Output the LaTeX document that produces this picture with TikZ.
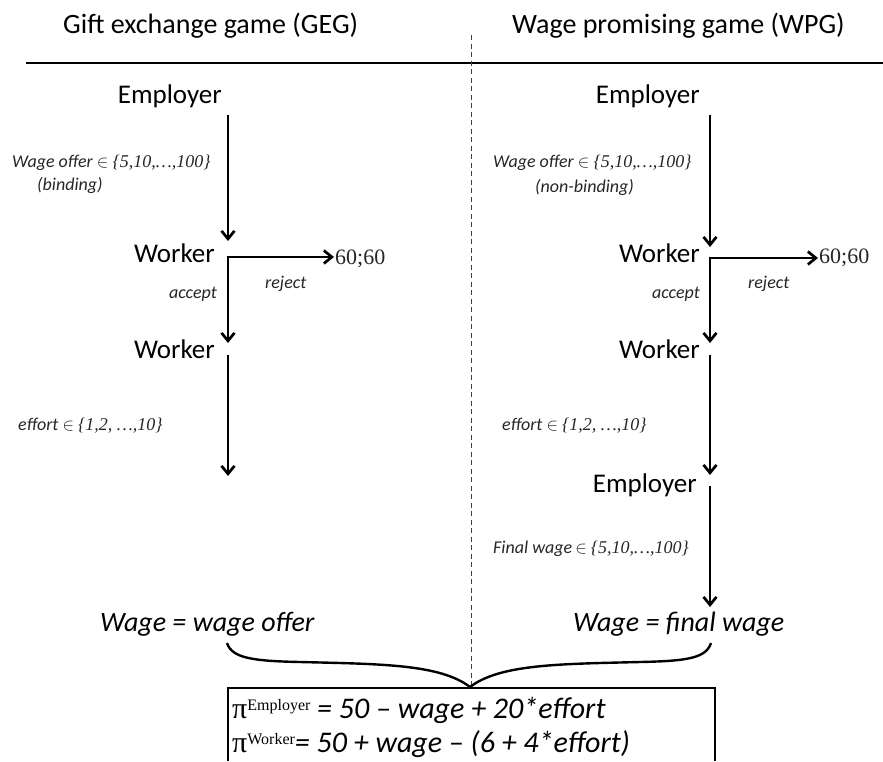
\documentclass[tikz,border=0pt]{standalone}
\usepackage{fontspec}
\setmainfont{Carlito}
\newfontfamily\tms{Liberation Serif}
\usetikzlibrary{arrows.meta}
\newcommand\setin[1]{$\in$ {\tms #1}}
\newcommand\sups[1]{\raisebox{8pt}{\fontsize{16}{16}\selectfont\tms\upshape #1}}
\newcommand\pisym{{\fontsize{30}{30}\selectfont\tms\upshape π}}
\begin{document}
\begin{tikzpicture}[x=1pt,y=-1pt,
  arr/.style={line width=2.7pt,-{Straight Barb[length=8pt,width=13pt]}},
  ttl/.style={font=\fontsize{28}{32}\selectfont, anchor=base west, inner sep=0pt},
  actor/.style={font=\fontsize{27}{30}\selectfont, anchor=base east, inner sep=0pt},
  lbl/.style={font=\fontsize{18}{21}\selectfont\itshape, anchor=base west, inner sep=0pt, text=black!85},
  lble/.style={lbl, anchor=base east},
  pay/.style={font=\fontsize{22}{24}\selectfont\tms, anchor=base west, inner sep=0pt, text=black!85},
  big/.style={font=\fontsize{28}{32}\selectfont\itshape, anchor=base west, inner sep=0pt},
  eq/.style={font=\fontsize{30}{34}\selectfont\itshape, anchor=base west, inner sep=0pt},
  brace/.style={line width=2.4pt},
  divider/.style={dash pattern=on 5pt off 3.5pt, line width=0.9pt, black!75}
]
\useasboundingbox (0,0) rectangle (883,761);

% header
\node[ttl] (t1) at (63,33) {Gift exchange game (GEG)};
\node[ttl] (t2) at (512,33) {Wage promising game (WPG)};
\draw[line width=1.4pt] (26,63) -- (883,63);
\coordinate (d1) at (471,35);
\coordinate (d2) at (471,688);
\draw[divider] (d1) -- (d2);

% left game
\node[actor] (e1) at (222,103) {Employer};
\node[actor] (w1) at (215,262) {Worker};
\node[actor] (w2) at (215,358) {Worker};
\node[lbl] (l1) at (12,167) {Wage offer \setin{\{5,10,…,100\}}};
\node[lbl] (l2) at (37,190) {(binding)};
\node[lble] (l3) at (217,298) {accept};
\node[lbl] (l4) at (265,288) {reject};
\node[pay] (p1) at (335,264) {60;60};
\node[lbl] (l5) at (18,430) {effort \setin{\{1,2, …,10\}}};
\node[big] (wl) at (100,631) {Wage = wage offer};

\coordinate (a1s) at (228,115);
\coordinate (a1e) at (228,241);
\coordinate (b1) at (228,257);
\coordinate (a2e) at (228,343);
\coordinate (a3s) at (228,355);
\coordinate (a3e) at (228,476);
\draw[arr] (a1s) -- (a1e);
\draw[arr,shorten >=1pt] ([xshift=-1.35pt]b1) -- (b1 -| p1.west);
\draw[arr] ([yshift=1.35pt]b1) -- (a2e);
\draw[arr] (a3s) -- (a3e);

% right game
\node[actor] (e2) at (700,103) {Employer};
\node[actor] (w3) at (700,262) {Worker};
\node[actor] (w4) at (700,358) {Worker};
\node[actor] (e3) at (697,492) {Employer};
\node[lbl] (r1) at (493,167) {Wage offer \setin{\{5,10,…,100\}}};
\node[lbl] (r2) at (535,192) {(non-binding)};
\node[lble] (r3) at (700,298) {accept};
\node[lbl] (r4) at (748,288) {reject};
\node[pay] (p2) at (819,263) {60;60};
\node[lbl] (r5) at (502,430) {effort \setin{\{1,2, …,10\}}};
\node[lbl] (r6) at (493,553) {Final wage\,\setin{\{5,10,…,100\}}};
\node[big] (wr) at (573,631) {Wage = final wage};

\coordinate (c1s) at (710,115);
\coordinate (c1e) at (710,247);
\coordinate (b2) at (710,258);
\coordinate (c2e) at (710,343);
\coordinate (c3s) at (710,355);
\coordinate (c3e) at (710,475);
\coordinate (c4s) at (710,486);
\coordinate (c4e) at (710,607);
\draw[arr] (c1s) -- (c1e);
\draw[arr,shorten >=1pt] ([xshift=-1.35pt]b2) -- (b2 -| p2.west);
\draw[arr] ([yshift=1.35pt]b2) -- (c2e);
\draw[arr] (c3s) -- (c3e);
\draw[arr] (c4s) -- (c4e);

% brace
\coordinate (br1) at (227,643);
\coordinate (brm1) at (300,662);
\coordinate (brt) at (470,687);
\coordinate (brm2) at (640,662);
\coordinate (br2) at (711,643);
\draw[brace] (br1) .. controls (232,658) and (252,661) .. (brm1)
  .. controls (380,664) and (440,664) .. (brt)
  .. controls (500,664) and (560,664) .. (brm2)
  .. controls (688,661) and (706,658) .. (br2);

% payoff box
\draw[line width=1.3pt] (228,761) -- (228,688) -- (715,688) -- (715,761);
\node[eq] (q1) at (232,718) {\pisym\sups{Employer} = 50 – wage + 20*effort};
\node[eq] (q2) at (232,752) {\pisym\sups{Worker}= 50 + wage – (6 + 4*effort)};
\end{tikzpicture}
\end{document}
